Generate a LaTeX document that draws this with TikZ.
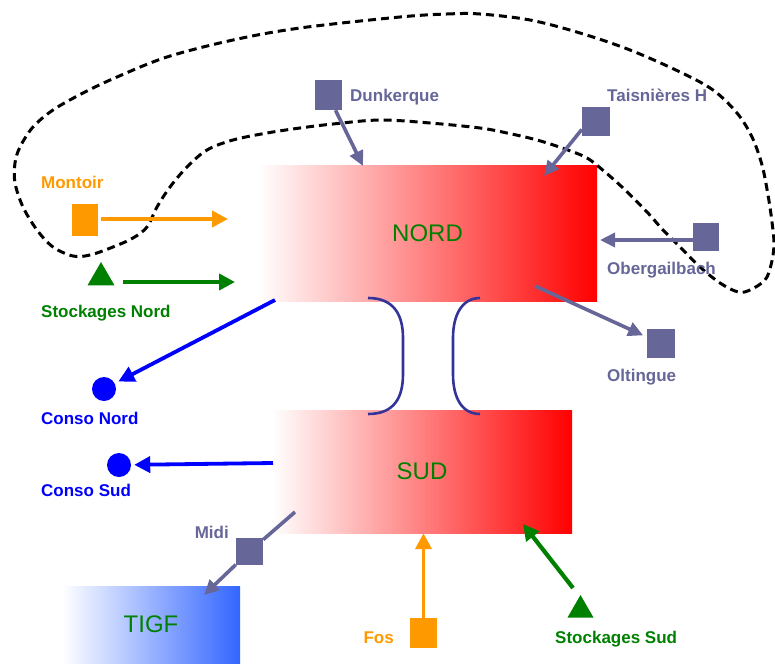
\documentclass[tikz,border=0pt]{standalone}
\usepackage{fontspec}
\setmainfont{Liberation Sans}
\usetikzlibrary{arrows.meta,shapes.geometric,calc}
\definecolor{slate}{RGB}{102,102,153}
\definecolor{orng}{RGB}{255,153,0}
\definecolor{grn}{RGB}{0,128,0}
\definecolor{blu}{RGB}{0,0,255}
\definecolor{arcblue}{RGB}{51,51,153}
\definecolor{tigfblue}{RGB}{51,102,255}
\tikzset{
  zone/.style={rectangle,inner sep=0pt,text=grn,font=\fontsize{24}{24}\selectfont},
  lbl/.style={inner sep=0pt,font=\fontsize{17}{17}\selectfont\bfseries},
  sqmark/.style={rectangle,fill=#1,draw=none,inner sep=0pt},
  trimark/.style={regular polygon,regular polygon sides=3,fill=grn,draw=none,inner sep=0pt,minimum size=31pt},
  dotmark/.style={circle,fill=blu,draw=none,inner sep=0pt,minimum size=24pt},
  slarrow/.style={draw=slate,line width=3.6pt,-{Triangle[length=15pt,width=14pt]}},
  orarrow/.style={draw=orng,line width=4.2pt,-{Triangle[length=16pt,width=16pt]}},
  grarrow/.style={draw=grn,line width=4.2pt,-{Triangle[length=16pt,width=16pt]}},
  blarrow/.style={draw=blu,line width=3.8pt,-{Triangle[length=16pt,width=16pt]}},
  link/.style={draw=arcblue,line width=2.6pt},
  loop/.style={draw=black,line width=3pt,dash pattern=on 8pt off 5pt}
}
\begin{document}
\begin{tikzpicture}[x=1pt,y=-1pt]
\useasboundingbox (0,0) rectangle (775,663);
% zones
\node[zone,minimum width=339pt,minimum height=136pt,left color=white,right color=red] (nord) at (427.5,233) {NORD};
\node[zone,minimum width=300pt,minimum height=123pt,left color=white,right color=red] (sud) at (422,471.5) {SUD};
\node[zone,minimum width=178pt,minimum height=77pt,left color=white,right color=tigfblue] (tigf) at (151,624.5) {TIGF};
% dashed loop
\draw[loop] plot[smooth cycle,tension=0.55] coordinates {
 (400,17) (447,14) (480,14) (530,20) (580,33) (630,50) (680,72) (713,90) (737,113) (752,137)
 (762,165) (768,195) (772,222) (774,245) (771,265) (765,280) (750,290) (738,292) (720,283)
 (700,267) (680,247) (663,230) (647,212) (623,188) (605,172) (587,158) (565,149) (537,140)
 (507,133) (480,128) (430,123) (380,120) (333,124) (300,128) (267,133) (233,140) (207,150)
 (187,167) (170,187) (157,207) (147,227) (133,238) (113,247) (90,255) (73,256) (53,247)
 (37,230) (23,207) (15,183) (15,163) (20,147) (33,127) (53,110) (83,93) (117,77) (167,57)
 (233,40) (300,28)};
% links between NORD and SUD
\draw[link] (368,298) .. controls (394,298) and (403,315) .. (403,338) -- (403,374)
  .. controls (403,398) and (394,414) .. (368,414);
\draw[link] (480,298) .. controls (462,298) and (453,315) .. (453,338) -- (453,374)
  .. controls (453,398) and (462,414) .. (480,414);
% markers
\node[sqmark=slate,minimum width=27pt,minimum height=30pt] (dunk) at (328,95) {};
\node[sqmark=slate,minimum width=28pt,minimum height=29pt] (tais) at (596,121.5) {};
\node[sqmark=slate,minimum width=26pt,minimum height=28pt] (oberg) at (706,237) {};
\node[sqmark=slate,minimum width=28pt,minimum height=29pt] (olt) at (661,343.5) {};
\node[sqmark=orng,minimum width=26pt,minimum height=32pt] (mont) at (85,220) {};
\node[trimark] (stn) at (101,277.5) {};
\node[dotmark] (cnord) at (104,389) {};
\node[dotmark] (csud) at (119,465) {};
\node[sqmark=slate,minimum width=27pt,minimum height=27pt] (midi) at (249.5,551.5) {};
\node[sqmark=orng,minimum width=27pt,minimum height=30pt] (fos) at (423.5,633) {};
\node[trimark,minimum size=30pt] (sts) at (580.5,610) {};
% labels
\node[lbl,text=slate,anchor=base west] (ldunk) at (350,102) {Dunkerque};
\node[lbl,text=slate,anchor=base west] (ltais) at (607,102) {Taisnières H};
\node[lbl,text=slate,anchor=base west] (loberg) at (607,274) {Obergailbach};
\node[lbl,text=slate,anchor=base west] (lolt) at (607,381) {Oltingue};
\node[lbl,text=orng,anchor=base west] (lmont) at (41,188) {Montoir};
\node[lbl,text=grn,anchor=base west] (lstn) at (41,317) {Stockages Nord};
\node[lbl,text=blu,anchor=base west] (lcnord) at (41,424) {Conso Nord};
\node[lbl,text=blu,anchor=base west] (lcsud) at (41,496) {Conso Sud};
\node[lbl,text=slate,anchor=base east] (lmidi) at (229,538) {Midi};
\node[lbl,text=orng,anchor=base east] (lfos) at (394,643) {Fos};
\node[lbl,text=grn,anchor=base west] (lsts) at (555,643) {Stockages Sud};
% connector end points
\coordinate (dunkin) at (363,166);
\coordinate (taisin) at (544,176);
\coordinate (obergin) at (600,240);
\coordinate (oltout) at (535,286);
\coordinate (montin) at (228,219);
\coordinate (stnout) at (123,282);
\coordinate (stnin) at (235,282);
\coordinate (cnout) at (275,300);
\coordinate (csout) at (273,463);
\coordinate (midiout) at (295,512);
\coordinate (tigfin) at (204,595);
\coordinate (stsout) at (573,588);
\coordinate (stsin) at (523,524);
% connectors
\draw[slarrow] (dunk) -- (dunkin);
\draw[slarrow] ([yshift=-8pt]tais.west) -- (taisin);
\draw[slarrow] ([yshift=-3pt]oberg.west) -- (obergin);
\draw[slarrow,shorten >=4pt] (oltout) -- (olt);
\draw[orarrow,shorten <=3pt] ([yshift=1pt]mont.east) -- (montin);
\draw[grarrow] (stnout) -- (stnin);
\draw[blarrow,shorten >=4pt] (cnout) -- (cnord);
\draw[blarrow,shorten >=3pt] (csout) -- (csud);
\draw[draw=slate,line width=3.6pt] (midiout) -- (midi);
\draw[slarrow] (midi) -- (tigfin);
\draw[orarrow,line width=3.6pt] (fos) -- (fos |- sud.south);
\draw[grarrow] (stsout) -- (stsin);
\end{tikzpicture}
\end{document}
